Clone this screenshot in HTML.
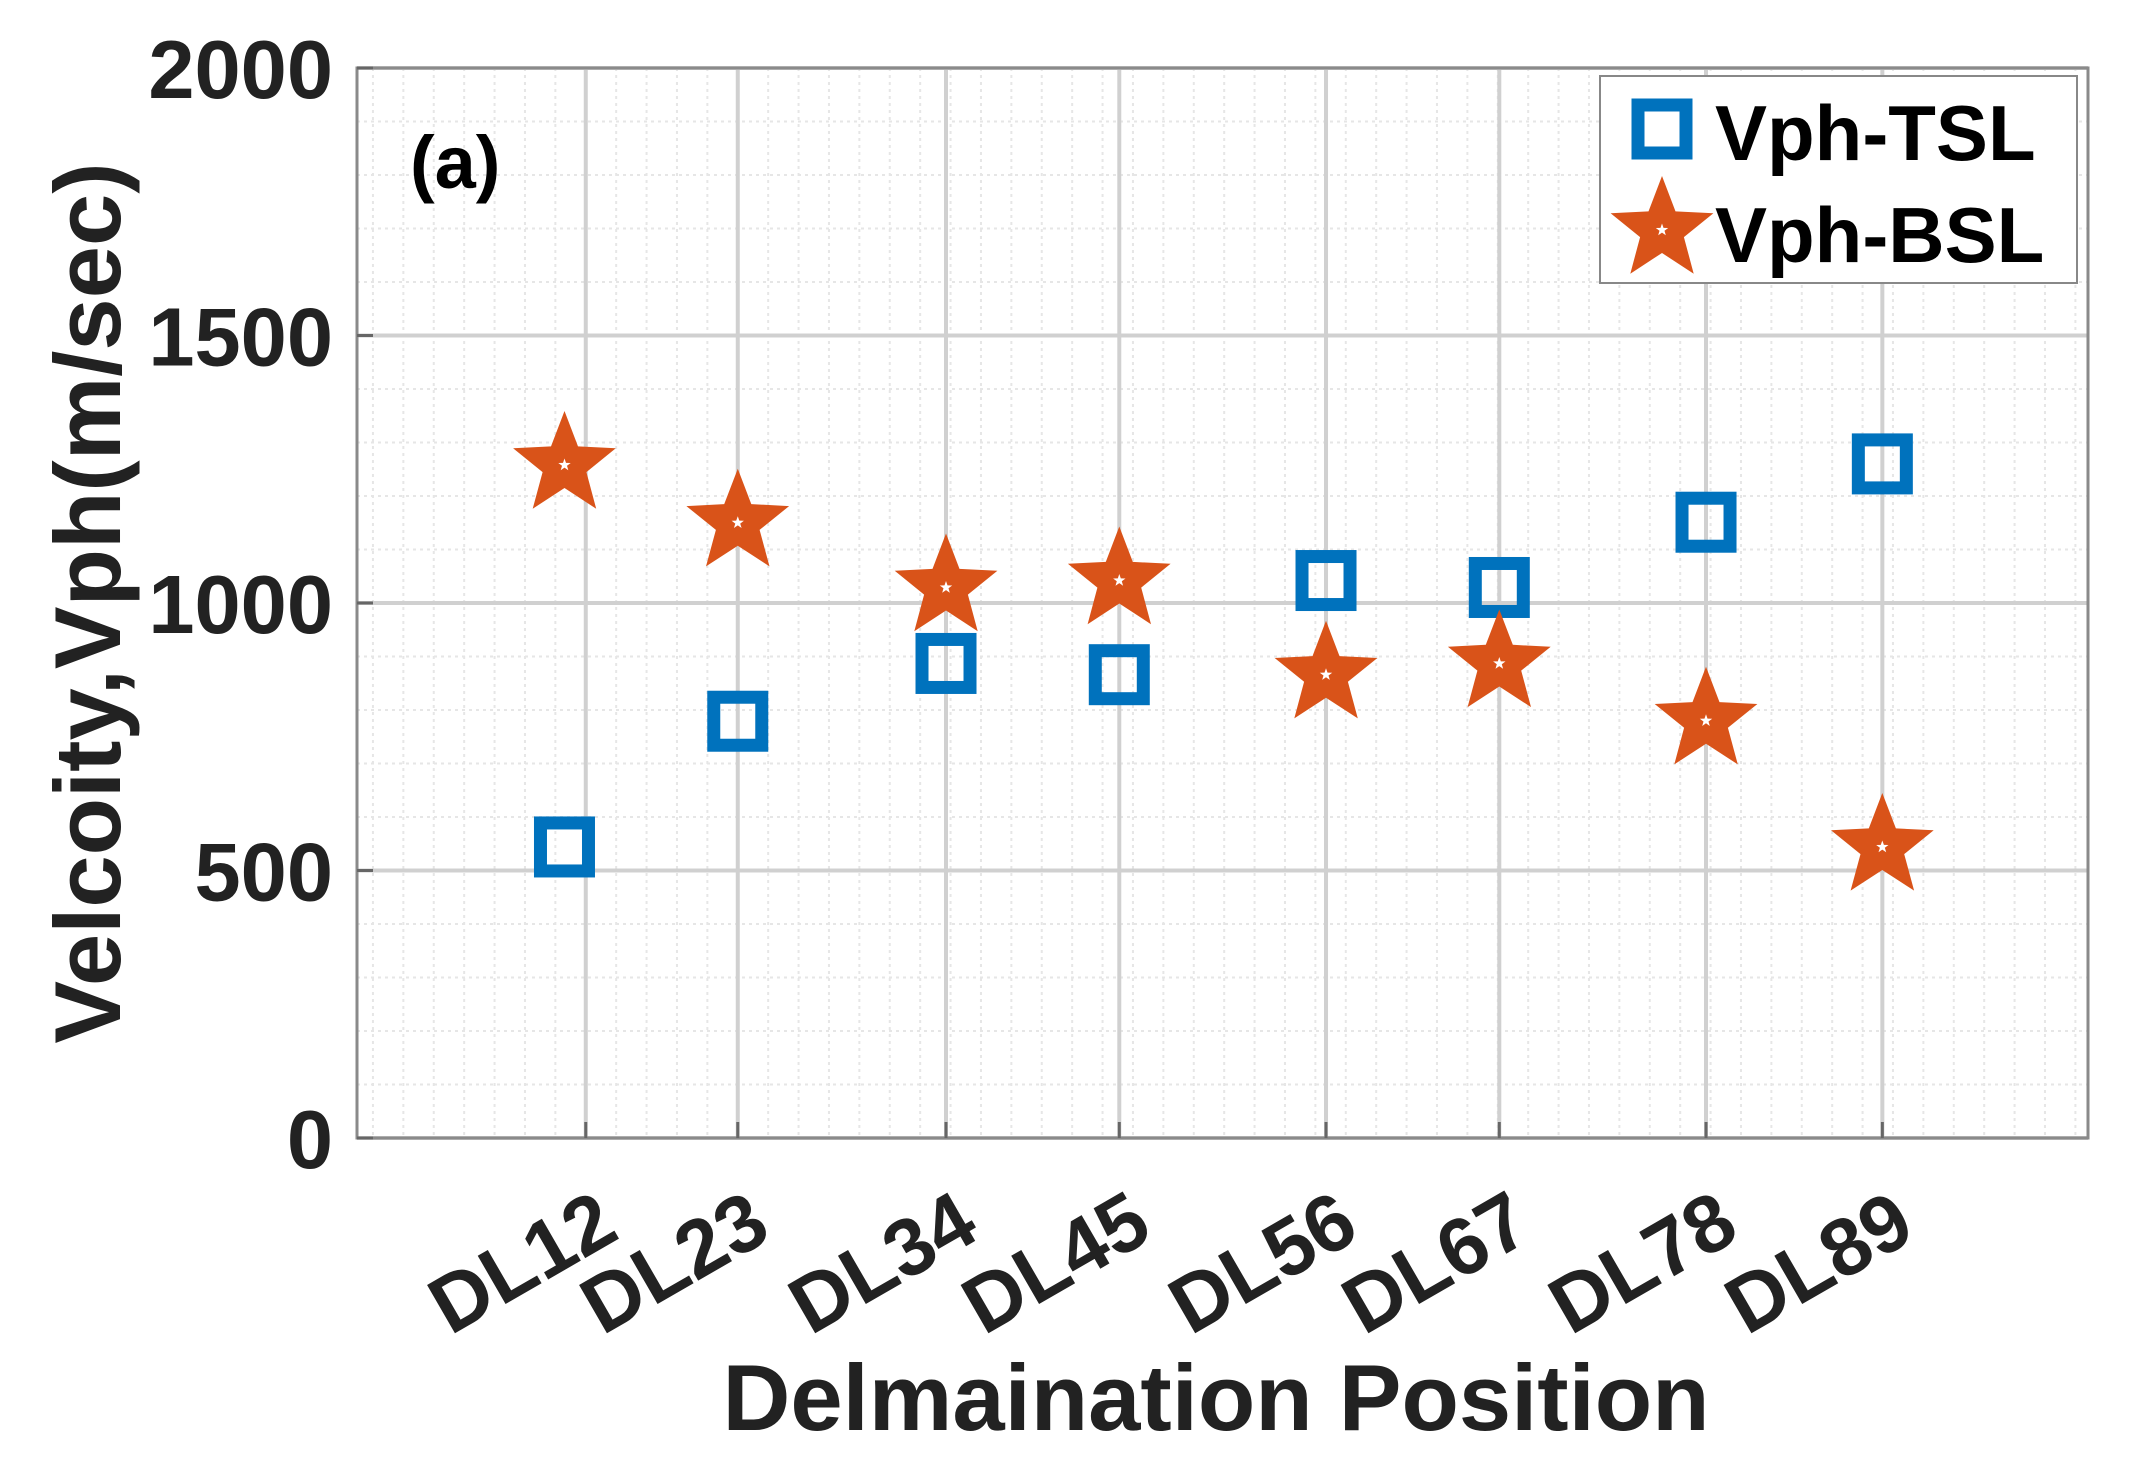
<!DOCTYPE html>
<html><head><meta charset="utf-8">
<style>
html,body{margin:0;padding:0;background:#fff;}
svg{display:block;font-family:"Liberation Sans",Arial,sans-serif;}
</style></head>
<body>
<svg id="chart" width="2138" height="1468" viewBox="0 0 2138 1468" xmlns="http://www.w3.org/2000/svg">
<rect width="2138" height="1468" fill="#fff"/>
<g id="grid"></g>
<g id="axes"></g>
<g id="marks"></g>
<text x="410" y="188" font-size="74" font-weight="bold" fill="#000">(a)</text>
<text transform="translate(120,603) rotate(-90)" text-anchor="middle" font-size="94" font-weight="bold" fill="#222">Velcoity,Vph(m/sec)</text>
<text x="1216" y="1430" text-anchor="middle" font-size="94" font-weight="bold" fill="#222">Delmaination Position</text>
<g>
<rect x="1600" y="76" width="477" height="207" fill="#fff" stroke="#888" stroke-width="2"/>
<g id="legend-marks"></g>
<text x="1715" y="160" font-size="78" font-weight="bold" fill="#000">Vph-TSL</text>
<text x="1715" y="262" font-size="78" font-weight="bold" fill="#000">Vph-BSL</text>
</g>
</svg>
<script>
const categories = ["DL12","DL23","DL34","DL45","DL56","DL67","DL78","DL89"];
const tickPositions = [2.40,3.40,4.77,5.91,7.27,8.41,9.77,10.93];
const markerPositions = [2.26,3.40,4.77,5.91,7.27,8.41,9.77,10.93];
const tslValues = [544,779,887,866,1042,1029,1151,1260];
const bslValues = [1258,1150,1029,1042,866,887,780,544];
const yTicks = [0,500,1000,1500,2000];
const yTickLabels = ["0","500","1000","1500","2000"];

const NS = "http://www.w3.org/2000/svg";
const L=357,R=2088,T=68,B=1138;
const XMIN=0.895,XMAX=12.283,YMIN=0,YMAX=2000;
function xs(v){return L+(v-XMIN)/(XMAX-XMIN)*(R-L);}
function ys(v){return B-(v-YMIN)/(YMAX-YMIN)*(B-T);}
function mk(tag,attrs,parent){const e=document.createElementNS(NS,tag);for(const k in attrs)e.setAttribute(k,attrs[k]);parent.appendChild(e);return e;}

const grid=document.getElementById('grid');
for(let v=1.0; v<XMAX; v+=0.2){
  const l=mk('line',{x1:xs(v),x2:xs(v),y1:T,y2:B,stroke:'#e6e6e6','stroke-width':2,'stroke-dasharray':'3,4'},grid);
  
  
}
for(let v=100; v<YMAX; v+=100){
  if(v%500===0) continue;
  const l=mk('line',{x1:L,x2:R,y1:ys(v),y2:ys(v),stroke:'#e6e6e6','stroke-width':2,'stroke-dasharray':'3,4'},grid);
  
  
}
tickPositions.forEach(v=>{
  const l=mk('line',{x1:xs(v),x2:xs(v),y1:T,y2:B,stroke:'#d0d0d0','stroke-width':4},grid);
  
  
});
yTicks.forEach(v=>{
  const l=mk('line',{x1:L,x2:R,y1:ys(v),y2:ys(v),stroke:'#d0d0d0','stroke-width':4},grid);
  
  
});

const axes=document.getElementById('axes');
const box=mk('rect',{x:L,y:T,width:R-L,height:B-T,fill:'none',stroke:'#8a8a8a','stroke-width':3},axes);


yTicks.forEach((v,i)=>{
  const t=mk('line',{x1:L,x2:L+16,y1:ys(v),y2:ys(v),stroke:'#666','stroke-width':3},axes);
  
  
  const tx=mk('text',{x:333,y:ys(v)+30,'text-anchor':'end','font-size':83,'font-weight':'bold',fill:'#222'},axes);
  tx.textContent=yTickLabels[i];
  
  
});
tickPositions.forEach((v,i)=>{
  const t=mk('line',{x1:xs(v),x2:xs(v),y1:B,y2:B-16,stroke:'#666','stroke-width':3},axes);
  
  
  const ax=xs(v)+36, ay=1237;
  const tx=mk('text',{x:ax,y:ay,'text-anchor':'end','font-size':81,'font-weight':'bold',fill:'#222',transform:`rotate(-30 ${ax} ${ay})`},axes);
  tx.textContent=categories[i];
  
  
});

function starPts(cx,cy,ro,ri){
  const p=[];
  for(let k=0;k<10;k++){const r=k%2?ri:ro;const a=-Math.PI/2+k*Math.PI/5;p.push((cx+r*Math.cos(a)).toFixed(1)+','+(cy+r*Math.sin(a)).toFixed(1));}
  return p.join(' ');
}
function drawSquare(cx,cy,parent){
  return mk('rect',{x:cx-24,y:cy-24,width:48,height:48,fill:'none',stroke:'#0072BD','stroke-width':13},parent);
}
function drawStar(cx,cy,parent){
  const g=mk('g',{},parent);
  mk('polygon',{points:starPts(cx,cy,54,23),fill:'#D95319'},g);
  mk('polygon',{points:starPts(cx,cy,6.5,2.6),fill:'#fff'},g);
  return g;
}
const marks=document.getElementById('marks');
markerPositions.forEach((v,i)=>{
  const s=drawSquare(xs(v),ys(tslValues[i]),marks);
  
  
});
markerPositions.forEach((v,i)=>{
  const s=drawStar(xs(v),ys(bslValues[i]),marks);
  
  
});
const lm=document.getElementById('legend-marks');
const ls=drawSquare(1662,129,lm);


const lst=drawStar(1662,230,lm);


</script>
</body></html>
